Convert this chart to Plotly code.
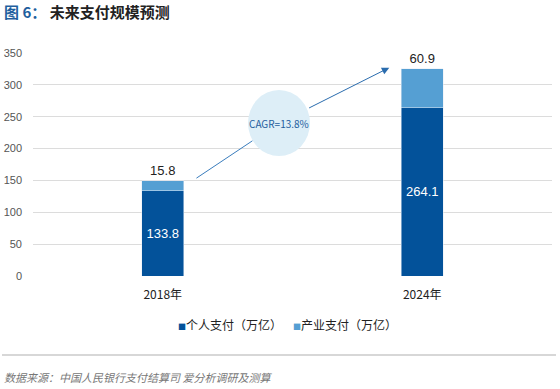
import plotly.graph_objects as go

years = ["2018年", "2024年"]
personal = [133.8, 264.1]
industry = [15.8, 60.9]
series_names = ["个人支付（万亿）", "产业支付（万亿）"]
cagr_text = "CAGR=13.8%"
title_prefix = "图 6："
title_main = "未来支付规模预测"
source_text = "数据来源：中国人民银行支付结算司 爱分析调研及测算"
y_ticks = [0, 50, 100, 150, 200, 250, 300, 350]

FONT = "Liberation Sans, Noto Sans CJK SC, sans-serif"
CJK = "Noto Sans CJK SC, sans-serif"
DARK = "#03529a"
LIGHT = "#559fd3"

W, H = 560, 389
L, R, T, B = 33, 8, 53, 113
pw, ph = W - L - R, H - T - B

def py2p(py):
    return (H - B - py) / ph

def px2p(px):
    return (px - L) / pw

fig = go.Figure()
fig.add_trace(go.Bar(
    x=[0, 1], y=personal, name=series_names[0], marker_color=DARK, width=0.162,
    text=[f"{v:.1f}" for v in personal], textposition="inside", insidetextanchor="middle",
    textfont=dict(color="white", size=13, family=FONT), hoverinfo="skip",
))
fig.add_trace(go.Bar(
    x=[0, 1], y=industry, name=series_names[1], marker_color=LIGHT, width=0.162,
    text=[f"{v:.1f}" for v in industry], textposition="outside",
    textfont=dict(color="#222222", size=13, family=FONT), cliponaxis=False, hoverinfo="skip",
))

# CAGR circle (pixel-sized, anchored in data space)
cx, cy = 0.448, 240
fig.add_shape(type="circle", xref="x", yref="y", xsizemode="pixel", ysizemode="pixel",
              xanchor=cx, yanchor=cy, x0=-31, x1=31, y0=-33, y1=33,
              fillcolor="#ddeef7", line=dict(width=0), layer="above")
# arrow in two segments, stopping at the circle
fig.add_annotation(x=cx, y=cy, ax=0.124, ay=152, xref="x", yref="y", axref="x", ayref="y",
                   showarrow=True, arrowhead=0, arrowwidth=1, arrowcolor="#3a7dbd",
                   text="", standoff=32)
fig.add_annotation(x=0.873, y=327, ax=cx, ay=cy, xref="x", yref="y", axref="x", ayref="y",
                   showarrow=True, arrowhead=2, arrowsize=1.5, arrowwidth=1, arrowcolor="#2a6cae",
                   text="", standoff=0, startstandoff=32)
fig.add_annotation(x=cx, y=cy, xref="x", yref="y", text=cagr_text, showarrow=False,
                   font=dict(size=10, color="#1f5e9e", family=CJK))
# title
fig.add_annotation(x=px2p(2), y=py2p(12), xref="paper", yref="paper",
                   xanchor="left", yanchor="middle", showarrow=False,
                   text=f"<b><span style='color:#1f5f9e'>{title_prefix}</span> {title_main}</b>",
                   font=dict(size=15, color="#222222", family=CJK))
# legend (custom, small square markers)
for lx, col, name in [(176, DARK, series_names[0]), (291, LIGHT, series_names[1])]:
    fig.add_annotation(x=px2p(lx), y=py2p(324), xref="paper", yref="paper",
                       xanchor="left", yanchor="middle", showarrow=False,
                       text=f"<span style='color:{col};font-size:8px'>■</span>{name}",
                       font=dict(size=12, color="#222222", family=CJK))
# source
fig.add_annotation(x=px2p(2), y=py2p(377), xref="paper", yref="paper",
                   xanchor="left", yanchor="middle", showarrow=False,
                   text=f"<i>{source_text}</i>", font=dict(size=11, color="#777777", family=CJK))
# separator
fig.add_shape(type="line", xref="paper", yref="paper",
              x0=px2p(2), x1=px2p(556), y0=py2p(355), y1=py2p(355),
              line=dict(color="#b0b0b0", width=1.2))

fig.update_layout(
    width=W, height=H, margin=dict(l=L, r=R, t=T, b=B),
    barmode="stack", plot_bgcolor="white", paper_bgcolor="white",
    font=dict(family=FONT, color="#222222"),
    showlegend=False,
    xaxis=dict(tickmode="array", tickvals=[0, 1], ticktext=years, range=[-0.5, 1.5],
               showgrid=False, zeroline=False, showline=False, ticks="", automargin=False,
               ticklabelstandoff=10,
               tickfont=dict(size=12, color="#222222", family=CJK)),
    yaxis=dict(range=[0, 350], tickvals=y_ticks, showgrid=True, gridcolor="#dcdcdc", gridwidth=1.3,
               zeroline=False, showline=False, ticks="", ticklabelstandoff=10, automargin=False,
               tickfont=dict(size=11, color="#555555", family=FONT)),
)
fig.write_html("out.html", post_script="document.body.style.margin='0';",
               config={"displayModeBar": False})
